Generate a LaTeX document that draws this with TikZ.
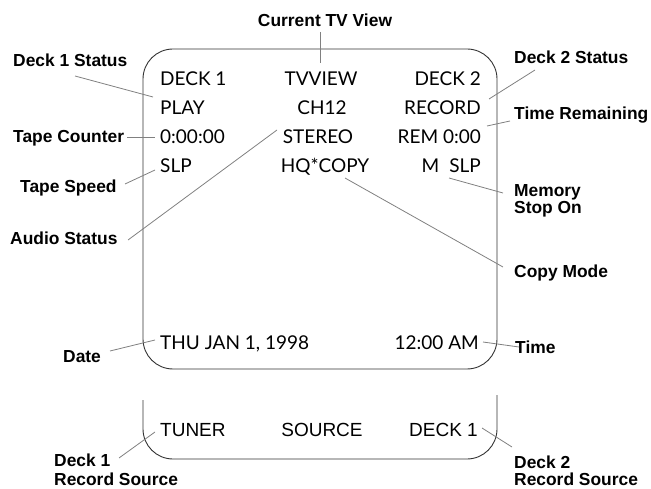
\documentclass[tikz,border=0pt]{standalone}
\usepackage{fontspec}
\setmainfont{Liberation Sans}
\newfontfamily\dispfont{Lato}
\begin{document}
\begin{tikzpicture}[x=1pt,y=-1pt,
  lbl/.style={font=\bfseries\fontsize{17.4}{17}\selectfont, inner sep=0pt, align=left},
  disp/.style={font=\dispfont\fontsize{19}{20}\selectfont, inner sep=0pt},
  srcs/.style={font=\fontsize{19}{20}\selectfont, inner sep=0pt},
  lead/.style={draw=black!50, line width=0.8pt},
  frame/.style={draw=black!80, line width=0.9pt, rounded corners=30pt}]
\useasboundingbox (0,0) rectangle (651,489);
% display frame and source bracket
\draw[frame] (143,49) rectangle (497,369);
\draw[frame] (143,400) -- (143,459) -- (497,459) -- (497,395);
% display texts
\node[disp, anchor=base west] (d1) at (160,86) {DECK 1};
\node[disp, anchor=base] (tvv) at (321,86) {TVVIEW};
\node[disp, anchor=base east] (d2) at (481,86) {DECK 2};
\node[disp, anchor=base west] (play) at (160,115) {PLAY};
\node[disp, anchor=base] (ch) at (322,115) {CH12};
\node[disp, anchor=base east] (rec) at (481,115) {RECORD};
\node[disp, anchor=base west] (cnt) at (160,144) {0:00:00};
\node[disp, anchor=base] (ster) at (318,144) {STEREO};
\node[disp, anchor=base east] (rem) at (481,144) {REM 0:00};
\node[disp, anchor=base west] (slp) at (160,173) {SLP};
\node[disp, anchor=base] (hq) at (325,173) {HQ*COPY};
\node[disp, anchor=base east] (mslp) at (481,173) {M\hspace{10pt}SLP};
\node[disp, anchor=base west] (date) at (160,349) {THU JAN 1, 1998};
\node[disp, anchor=base east] (time) at (479,349) {12:00 AM};
\node[srcs, anchor=base west] (tun) at (160,436) {TUNER};
\node[srcs, anchor=base] (src) at (322,436) {SOURCE};
\node[srcs, anchor=base east] (dk1) at (478,436) {DECK 1};
% labels
\node[lbl, anchor=base] (lctv) at (325,27) {Current TV View};
\node[lbl, anchor=base west] (ld1) at (13,67) {Deck 1 Status};
\node[lbl, anchor=base west] (ld2) at (514,64) {Deck 2 Status};
\node[lbl, anchor=base west] (ltr) at (514,120) {Time Remaining};
\node[lbl, anchor=base west] (ltc) at (13,143) {Tape Counter};
\node[lbl, anchor=base west] (lts) at (20,193) {Tape Speed};
\node[lbl, anchor=north west] (lmem) at (514,184.5) {Memory\\Stop On};
\node[lbl, anchor=base west] (las) at (10,245) {Audio Status};
\node[lbl, anchor=base west] (lcm) at (514,278) {Copy Mode};
\node[lbl, anchor=base west] (ldate) at (63,362) {Date};
\node[lbl, anchor=base west] (ltime) at (515,353) {Time};
\node[lbl, anchor=north west] (lr1) at (54,453.5) {Deck 1\\[2pt]Record Source};
\node[lbl, anchor=north west] (lr2) at (514,455.5) {Deck 2\\Record Source};
% leaders
\draw[lead] ([shift={(-5,5)}]lctv.base) -- ([shift={(-1,-23)}]tvv.base);
\draw[lead] ([shift={(62,9)}]ld1.base west) -- ([shift={(-7,-18)}]play.base west);
\draw[lead] ([shift={(114,-6)}]ltc.base west) -- ([shift={(-5,-7)}]cnt.base west);
\draw[lead] ([shift={(105,-9)}]lts.base west) -- ([shift={(-5,-3)}]slp.base west);
\draw[lead] ([shift={(118,-5)}]las.base west) -- ([shift={(-41,-14)}]ster.base);
\draw[lead] ([shift={(47,-11)}]ldate.base west) -- ([shift={(-5,-9)}]date.base west);
\draw[lead] ([shift={(65,4.5)}]lr1.north west) -- ([shift={(-5,-4)}]tun.base west);
\draw[lead] ([shift={(21,6)}]ld2.base west) -- ([shift={(8,-16)}]rec.base east);
\draw[lead] ([shift={(-4,1)}]ltr.base west) -- ([shift={(6,-18)}]rem.base east);
\draw[lead] ([shift={(-32,5)}]mslp.base east) -- ([shift={(-11,8.5)}]lmem.north west);
\draw[lead] ([shift={(20,5)}]hq.base) -- ([shift={(-11,-11)}]lcm.base west);
\draw[lead] ([shift={(4,-7)}]time.base east) -- ([shift={(4,-6)}]ltime.base west);
\draw[lead] ([shift={(4,-8)}]dk1.base east) -- ([shift={(-2,-8.5)}]lr2.north west);
\end{tikzpicture}
\end{document}
